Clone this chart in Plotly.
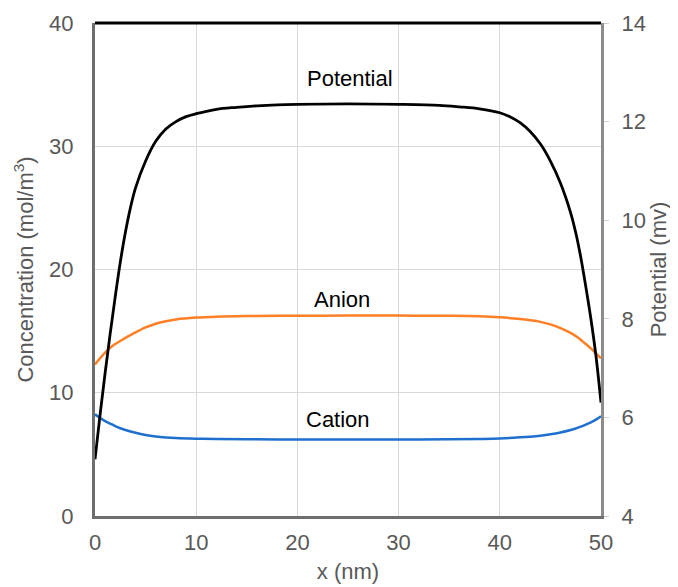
import plotly.graph_objects as go

# x positions (nm) for each series
x_pot = [0, 0.5, 1.0, 1.5, 2.0, 2.5, 3.0, 3.5, 4.0, 5.0, 6.0, 7.0, 8.0, 9.0, 10.0, 12.0, 14.0, 16.0, 18.0, 20.0, 25.0,
         30.0, 34.0, 36.0, 38.0, 40.0, 41.0, 42.0, 43.0, 44.0, 45.0, 46.0, 47.0, 47.5, 48.0, 48.5, 49.0, 49.5, 50.0]
potential = [5.15, 6.05, 6.9, 7.7, 8.45, 9.15, 9.75, 10.25, 10.65, 11.2, 11.6, 11.85, 12.0, 12.1, 12.16, 12.25, 12.29, 12.32, 12.34, 12.35, 12.36,
             12.35, 12.33, 12.3, 12.26, 12.18, 12.1, 11.98, 11.8, 11.55, 11.2, 10.75, 10.15, 9.75, 9.25, 8.65, 8.0, 7.25, 6.3]

x_conc = [0, 0.5, 1.0, 1.5, 2.0, 2.5, 3.0, 4.0, 5.0, 6.0, 7.0, 8.0, 10.0, 12.0, 15.0, 20.0, 25.0, 30.0, 35.0, 38.0,
          40.0, 42.0, 43.0, 44.0, 45.0, 46.0, 47.0, 47.5, 48.0, 48.5, 49.0, 49.5, 50.0]
anion = [12.3, 12.8, 13.25, 13.65, 13.95, 14.2, 14.45, 14.9, 15.3, 15.6, 15.8, 15.95, 16.1, 16.17, 16.22, 16.25, 16.26, 16.26, 16.24, 16.2,
         16.12, 15.98, 15.88, 15.75, 15.55, 15.25, 14.85, 14.6, 14.3, 13.95, 13.6, 13.2, 12.8]
cation = [8.25, 7.95, 7.7, 7.5, 7.3, 7.12, 6.98, 6.75, 6.57, 6.45, 6.37, 6.32, 6.27, 6.24, 6.22, 6.21, 6.21, 6.21, 6.22, 6.25,
          6.29, 6.38, 6.44, 6.52, 6.63, 6.78, 6.98, 7.1, 7.25, 7.42, 7.6, 7.82, 8.1]

x_ticks = [0, 10, 20, 30, 40, 50]
conc_ticks = [0, 10, 20, 30, 40]
pot_ticks = [4, 6, 8, 10, 12, 14]

labels = ["Potential", "Anion", "Cation"]
label_x = [25.2, 24.4, 24.0]
label_y = [35.5, 17.6, 7.8]

FONT = "Liberation Sans, Arial, sans-serif"
GRAY = "#595959"

fig = go.Figure()
fig.add_trace(go.Scatter(x=x_conc, y=anion, mode="lines", line=dict(color="#FF7F27", width=2.5, shape="spline"),
                         showlegend=False))
fig.add_trace(go.Scatter(x=x_conc, y=cation, mode="lines", line=dict(color="#1F6FCF", width=2.5, shape="spline"),
                         showlegend=False))
fig.add_trace(go.Scatter(x=x_pot, y=potential, mode="lines", yaxis="y2",
                         line=dict(color="black", width=2.8, shape="spline"), showlegend=False))

for t, xx, yy in zip(labels, label_x, label_y):
    fig.add_annotation(x=xx, y=yy, xref="x", yref="y", text=t, showarrow=False,
                       font=dict(family=FONT, size=22, color="black"))

# black top border
fig.add_shape(type="line", xref="paper", yref="paper", x0=0, x1=1, y0=1, y1=1,
              line=dict(color="black", width=3))

fig.update_layout(
    width=670, height=579,
    margin=dict(l=87, r=77, t=15, b=71),
    paper_bgcolor="white", plot_bgcolor="white",
    font=dict(family=FONT, color=GRAY),
    xaxis=dict(range=[0, 50], tickvals=x_ticks, showgrid=True, gridcolor="#d9d9d9", gridwidth=1,
               showline=True, linecolor="#6e6e6e", linewidth=3, ticks="", zeroline=False,
               automargin=False, ticklabelstandoff=5,
               tickfont=dict(size=22, color=GRAY),
               title=dict(text="x (nm)", font=dict(size=22, color=GRAY), standoff=10)),
    yaxis=dict(range=[0, 40], tickvals=conc_ticks, showgrid=True, gridcolor="#d9d9d9", gridwidth=1,
               showline=True, linecolor="#6e6e6e", linewidth=3, ticks="", zeroline=False,
               automargin=False, ticklabelstandoff=14,
               tickfont=dict(size=22, color=GRAY),
               title=dict(text="Concentration (mol/m<sup>3</sup>)", font=dict(size=22, color=GRAY), standoff=10)),
    yaxis2=dict(range=[4, 14], tickvals=pot_ticks, overlaying="y", side="right", showgrid=False,
                showline=True, linecolor="#8c8c8c", linewidth=3, ticks="outside", ticklen=5,
                tickcolor="#d0d0d0", zeroline=False, automargin=False, ticklabelstandoff=8,
                tickfont=dict(size=22, color=GRAY),
                title=dict(text="Potential (mv)", font=dict(size=22, color=GRAY), standoff=2)),
)

fig.write_html("out.html")
